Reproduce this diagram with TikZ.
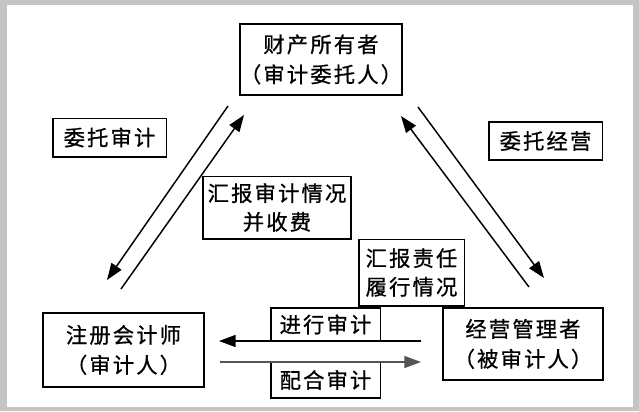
\documentclass[tikz,border=0pt]{standalone}
\usepackage{fontspec}
\setmainfont{Noto Sans CJK SC}[LetterSpace=10, FakeBold=0.8]
\usetikzlibrary{arrows.meta, positioning}
\definecolor{mygray1}{RGB}{196, 196, 196}
\definecolor{mygray2}{RGB}{85, 85, 85}

\tikzset{
  partybox/.style={draw, line width=1.2pt, inner sep=0pt, align=center,
    font=\fontsize{16pt}{22.5pt}\selectfont},
  labelbox/.style={draw, line width=1pt, inner sep=0pt, align=center,
    font=\fontsize{16pt}{21.5pt}\selectfont},
  flow/.style={line width=1.1pt, -{Triangle[length=12.5pt, width=9pt]}}
}

\begin{document}
\begin{tikzpicture}[x=0.75pt, y=-0.75pt]
% Frame
\fill[mygray1] (0,0) rectangle (639,411);
\fill[white] (7,5) rectangle (633,407);
\useasboundingbox (0,0) rectangle (639,411);
% Parties
\node[partybox, minimum width=121.5pt, minimum height=53pt] (owner) at (321,59.5) {财产所有者\\（审计委托人）};
\node[partybox, minimum width=121pt, minimum height=55.5pt] (auditor) at (123.5,350) {注册会计师\\（审计人）};
\node[partybox, minimum width=120pt, minimum height=54pt] (manager) at (523,344) {经营管理者\\（被审计人）};
% Labels
\node[labelbox, minimum width=85pt, minimum height=29pt] (entrustAudit) at (109.5,137.5) {委托审计};
\node[labelbox, minimum width=85pt, minimum height=28.5pt] (entrustMgmt) at (545.5,141) {委托经营};
\node[labelbox, minimum width=111pt, minimum height=47pt] (reportAudit) at (277,207.5) {汇报审计情况\\并收费};
\node[labelbox, minimum width=79pt, minimum height=50pt] (reportDuty) at (411.5,272.5) {汇报责任\\履行情况};
\node[labelbox, minimum width=82pt, minimum height=25pt] (doAudit) at (325.5,324.5) {进行审计};
\node[labelbox, minimum width=82pt, minimum height=27pt] (coopAudit) at (325.5,380) {配合审计};
% Arrow ends
\coordinate (oL1) at (228,106);
\coordinate (aL1) at (107,280);
\coordinate (aL2) at (121,289);
\coordinate (oL2) at (244,115);
\coordinate (oR1) at (418,107);
\coordinate (mR1) at (544,278);
\coordinate (mR2) at (529,287);
\coordinate (oR2) at (401,116);
\coordinate (mB1) at (421,341);
\coordinate (aB1) at (219,341);
\coordinate (aB2) at (220,362);
\coordinate (mB2) at (421,362);
% Arrows
\draw[flow] (oL1) -- (aL1);
\draw[flow] (aL2) -- (oL2);
\draw[flow] (oR1) -- (mR1);
\draw[flow] (mR2) -- (oR2);
\draw[flow] (mB1) -- (aB1);
\draw[flow, mygray2] (aB2) -- (mB2);
\end{tikzpicture}
\end{document}
